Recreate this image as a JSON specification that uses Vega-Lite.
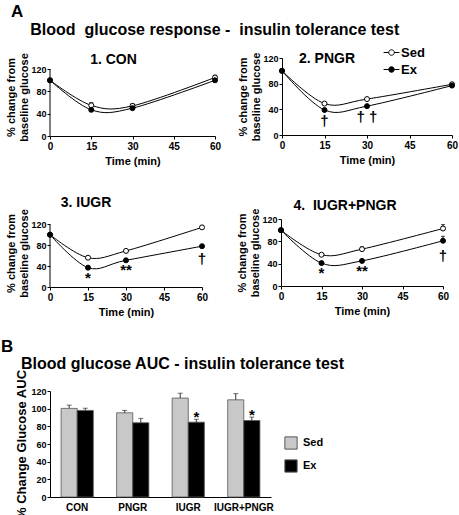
{
  "$schema": "https://vega.github.io/schema/vega-lite/v6.json",
  "background": "white",
  "padding": {"left": 0, "top": 3, "right": 0, "bottom": 0},
  "config": {
    "font": "Liberation Sans",
    "view": {"stroke": null},
    "axis": {"grid": false, "domainColor": "black", "tickColor": "black", "tickSize": 3, "labelFont": "Liberation Sans", "labelFontWeight": "bold", "labelColor": "black", "labelFontSize": 10, "labelPadding": 2, "labelOverlap": false, "labelFlush": false, "titleFont": "Liberation Sans", "titleFontWeight": "bold", "titleColor": "black", "titleFontSize": 11},
    "axisY": {"labelPadding": 1, "titlePadding": 1, "labelFontSize": 9},
    "title": {"font": "Liberation Sans", "fontWeight": "bold", "color": "black", "fontSize": 14},
    "legend": {"labelFont": "Liberation Sans", "labelFontWeight": "bold", "labelColor": "black"}
  },
  "datasets": {
    "lines": [
      {"panel": "CON", "group": "Sed", "time": 0, "value": 100},
      {"panel": "CON", "group": "Sed", "time": 15, "value": 55, "upper": 60},
      {"panel": "CON", "group": "Sed", "time": 30, "value": 54, "upper": 58},
      {"panel": "CON", "group": "Sed", "time": 60, "value": 105, "upper": 109},
      {"panel": "CON", "group": "Ex", "time": 0, "value": 100},
      {"panel": "CON", "group": "Ex", "time": 15, "value": 47},
      {"panel": "CON", "group": "Ex", "time": 30, "value": 50},
      {"panel": "CON", "group": "Ex", "time": 60, "value": 100},
      {"panel": "PNGR", "group": "Sed", "time": 0, "value": 100},
      {"panel": "PNGR", "group": "Sed", "time": 15, "value": 49},
      {"panel": "PNGR", "group": "Sed", "time": 30, "value": 56},
      {"panel": "PNGR", "group": "Sed", "time": 60, "value": 79, "upper": 82},
      {"panel": "PNGR", "group": "Ex", "time": 0, "value": 100},
      {"panel": "PNGR", "group": "Ex", "time": 15, "value": 39},
      {"panel": "PNGR", "group": "Ex", "time": 30, "value": 45},
      {"panel": "PNGR", "group": "Ex", "time": 60, "value": 77},
      {"panel": "IUGR", "group": "Sed", "time": 0, "value": 100},
      {"panel": "IUGR", "group": "Sed", "time": 15, "value": 56},
      {"panel": "IUGR", "group": "Sed", "time": 30, "value": 69},
      {"panel": "IUGR", "group": "Sed", "time": 60, "value": 114, "upper": 117},
      {"panel": "IUGR", "group": "Ex", "time": 0, "value": 100},
      {"panel": "IUGR", "group": "Ex", "time": 15, "value": 37},
      {"panel": "IUGR", "group": "Ex", "time": 30, "value": 51},
      {"panel": "IUGR", "group": "Ex", "time": 60, "value": 78},
      {"panel": "IUGR+PNGR", "group": "Sed", "time": 0, "value": 100},
      {"panel": "IUGR+PNGR", "group": "Sed", "time": 15, "value": 56},
      {"panel": "IUGR+PNGR", "group": "Sed", "time": 30, "value": 66, "upper": 70},
      {"panel": "IUGR+PNGR", "group": "Sed", "time": 60, "value": 103, "upper": 110},
      {"panel": "IUGR+PNGR", "group": "Ex", "time": 0, "value": 100},
      {"panel": "IUGR+PNGR", "group": "Ex", "time": 15, "value": 41},
      {"panel": "IUGR+PNGR", "group": "Ex", "time": 30, "value": 45},
      {"panel": "IUGR+PNGR", "group": "Ex", "time": 60, "value": 81, "upper": 89}
    ],
    "marks": [
      {"panel": "PNGR", "time": 15, "value": 39, "label": "†"},
      {"panel": "PNGR", "time": 30, "value": 45, "label": "† †"},
      {"panel": "IUGR", "time": 15, "value": 37, "label": "*"},
      {"panel": "IUGR", "time": 30, "value": 51, "label": "**"},
      {"panel": "IUGR", "time": 60, "value": 78, "label": "†"},
      {"panel": "IUGR+PNGR", "time": 15, "value": 41, "label": "*"},
      {"panel": "IUGR+PNGR", "time": 30, "value": 45, "label": "**"},
      {"panel": "IUGR+PNGR", "time": 60, "value": 81, "label": "†"}
    ],
    "auc": [
      {"cat": "CON", "group": "Sed", "value": 100.3, "upper": 104},
      {"cat": "CON", "group": "Ex", "value": 98, "upper": 100.5},
      {"cat": "PNGR", "group": "Sed", "value": 95.3, "upper": 98},
      {"cat": "PNGR", "group": "Ex", "value": 84, "upper": 89},
      {"cat": "IUGR", "group": "Sed", "value": 112, "upper": 117.5},
      {"cat": "IUGR", "group": "Ex", "value": 84.7, "upper": 88, "label": "*"},
      {"cat": "IUGR+PNGR", "group": "Sed", "value": 110, "upper": 117},
      {"cat": "IUGR+PNGR", "group": "Ex", "value": 86.6, "upper": 90.5, "label": "*"}
    ]
  },
  "resolve": {"scale": {"fill": "independent"}, "legend": {"fill": "independent"}},
  "align": "none",
  "spacing": 21,
  "vconcat": [
    {
      "title": {"text": "A", "anchor": "start", "frame": "bounds", "fontSize": 17, "offset": 1, "dx": 5},
      "resolve": {"scale": {"fill": "independent"}, "legend": {"fill": "independent"}},
      "align": "none",
      "spacing": 29,
      "vconcat": [
        {
          "title": {"text": "Blood \u00a0glucose response - \u00a0insulin tolerance test", "anchor": "middle", "frame": "bounds", "fontSize": 16, "offset": 6, "dx": -17},
          "resolve": {"scale": {"fill": "independent"}, "legend": {"fill": "independent"}},
          "spacing": 16,
          "hconcat": [
            {
              "width": 165, "height": 78,
              "title": {"text": "1. CON", "anchor": "middle", "frame": "group", "offset": -14, "dx": -19},
              "layer": [
                {"data": {"values": [{}]}, "mark": {"type": "rule", "color": "black"}, "encoding": {"x": {"datum": 0, "type": "quantitative"}, "y": {"datum": 0, "type": "quantitative"}, "y2": {"datum": 120}}},
                {"data": {"name": "lines"}, "transform": [{"filter": "datum.panel === 'CON'"}],
                 "mark": {"type": "line", "interpolate": "cardinal", "color": "black", "strokeWidth": 1},
                 "encoding": {
                   "x": {"field": "time", "type": "quantitative", "scale": {"domain": [0, 60]}, "axis": {"values": [0, 15, 30, 45, 60], "tickCount": 20, "title": "Time (min)"}},
                   "y": {"field": "value", "type": "quantitative", "scale": {"domain": [0, 137.6]}, "axis": {"values": [0, 40, 80, 120], "tickCount": 20, "domain": false, "title": ["% change from", "baseline glucose"]}},
                   "detail": {"field": "group"}}},
                {"data": {"name": "lines"}, "transform": [{"filter": "datum.panel === 'CON' && datum.upper != null"}],
                 "mark": {"type": "rule", "color": "black"},
                 "encoding": {"x": {"field": "time", "type": "quantitative"}, "y": {"field": "value", "type": "quantitative"}, "y2": {"field": "upper"}}},
                {"data": {"name": "lines"}, "transform": [{"filter": "datum.panel === 'CON' && datum.upper != null"}],
                 "mark": {"type": "tick", "orient": "horizontal", "size": 4, "thickness": 1, "color": "black"},
                 "encoding": {"x": {"field": "time", "type": "quantitative"}, "y": {"field": "upper", "type": "quantitative"}}},
                {"data": {"name": "lines"}, "transform": [{"filter": "datum.panel === 'CON'"}],
                 "mark": {"type": "point", "shape": "circle", "size": 25, "stroke": "black", "strokeWidth": 1, "opacity": 1},
                 "encoding": {"x": {"field": "time", "type": "quantitative"}, "y": {"field": "value", "type": "quantitative"},
                   "fill": {"field": "group", "type": "nominal", "scale": {"domain": ["Sed", "Ex"], "range": ["white", "black"]}, "legend": null}}}
              ]
            },
            {
              "width": 170, "height": 77,
              "title": {"text": "2. PNGR", "anchor": "middle", "frame": "group", "offset": -22, "dx": -40},
              "layer": [
                {"data": {"name": "lines"}, "transform": [{"filter": "datum.panel === 'PNGR'"}],
                 "mark": {"type": "line", "interpolate": "cardinal", "color": "black", "strokeWidth": 1},
                 "encoding": {
                   "x": {"field": "time", "type": "quantitative", "scale": {"domain": [0, 60]}, "axis": {"values": [0, 15, 30, 45, 60], "tickCount": 20, "title": "Time (min)"}},
                   "y": {"field": "value", "type": "quantitative", "scale": {"domain": [0, 120]}, "axis": {"values": [0, 40, 80, 120], "tickCount": 20, "title": ["% change from", "baseline glucose"]}},
                   "detail": {"field": "group"}}},
                {"data": {"name": "lines"}, "transform": [{"filter": "datum.panel === 'PNGR' && datum.upper != null"}],
                 "mark": {"type": "rule", "color": "black"},
                 "encoding": {"x": {"field": "time", "type": "quantitative"}, "y": {"field": "value", "type": "quantitative"}, "y2": {"field": "upper"}}},
                {"data": {"name": "lines"}, "transform": [{"filter": "datum.panel === 'PNGR' && datum.upper != null"}],
                 "mark": {"type": "tick", "orient": "horizontal", "size": 4, "thickness": 1, "color": "black"},
                 "encoding": {"x": {"field": "time", "type": "quantitative"}, "y": {"field": "upper", "type": "quantitative"}}},
                {"data": {"name": "lines"}, "transform": [{"filter": "datum.panel === 'PNGR'"}],
                 "mark": {"type": "point", "shape": "circle", "size": 25, "stroke": "black", "strokeWidth": 1, "opacity": 1},
                 "encoding": {"x": {"field": "time", "type": "quantitative"}, "y": {"field": "value", "type": "quantitative"},
                   "fill": {"field": "group", "type": "nominal", "scale": {"domain": ["Sed", "Ex"], "range": ["white", "black"]},
                     "legend": {"orient": "none", "legendX": 101, "legendY": -14, "title": null, "symbolType": "M-1,0L-0.35,0M0.35,0L1,0M-0.35,0A0.35,0.35,0,1,1,0.35,0A0.35,0.35,0,1,1,-0.35,0Z", "symbolSize": 250, "symbolStrokeColor": "black", "symbolStrokeWidth": 1, "labelFontSize": 13, "labelOffset": 1, "rowPadding": 1, "padding": 0}}}},
                {"data": {"name": "marks"}, "transform": [{"filter": "datum.panel === 'PNGR'"}],
                 "mark": {"type": "text", "baseline": "middle", "dy": 11, "fontSize": 15, "fontWeight": "bold", "color": "black"},
                 "encoding": {"x": {"field": "time", "type": "quantitative"}, "y": {"field": "value", "type": "quantitative"}, "text": {"field": "label"}}}
              ]
            }
          ]
        },
        {
          "resolve": {"scale": {"fill": "independent"}, "legend": {"fill": "independent"}},
          "spacing": 28,
          "hconcat": [
            {
              "width": 152, "height": 68,
              "title": {"text": "3. IUGR", "anchor": "middle", "frame": "group", "offset": -1, "dx": -40},
              "layer": [
                {"data": {"values": [{}]}, "mark": {"type": "rule", "color": "black"}, "encoding": {"x": {"datum": 0, "type": "quantitative"}, "y": {"datum": 0, "type": "quantitative"}, "y2": {"datum": 120}}},
                {"data": {"name": "lines"}, "transform": [{"filter": "datum.panel === 'IUGR'"}],
                 "mark": {"type": "line", "interpolate": "cardinal", "color": "black", "strokeWidth": 1},
                 "encoding": {
                   "x": {"field": "time", "type": "quantitative", "scale": {"domain": [0, 60]}, "axis": {"values": [0, 15, 30, 45, 60], "tickCount": 20, "title": "Time (min)"}},
                   "y": {"field": "value", "type": "quantitative", "scale": {"domain": [0, 127.5]}, "axis": {"values": [0, 40, 80, 120], "tickCount": 20, "domain": false, "title": ["% change from", "baseline glucose"]}},
                   "detail": {"field": "group"}}},
                {"data": {"name": "lines"}, "transform": [{"filter": "datum.panel === 'IUGR' && datum.upper != null"}],
                 "mark": {"type": "rule", "color": "black"},
                 "encoding": {"x": {"field": "time", "type": "quantitative"}, "y": {"field": "value", "type": "quantitative"}, "y2": {"field": "upper"}}},
                {"data": {"name": "lines"}, "transform": [{"filter": "datum.panel === 'IUGR' && datum.upper != null"}],
                 "mark": {"type": "tick", "orient": "horizontal", "size": 4, "thickness": 1, "color": "black"},
                 "encoding": {"x": {"field": "time", "type": "quantitative"}, "y": {"field": "upper", "type": "quantitative"}}},
                {"data": {"name": "lines"}, "transform": [{"filter": "datum.panel === 'IUGR'"}],
                 "mark": {"type": "point", "shape": "circle", "size": 25, "stroke": "black", "strokeWidth": 1, "opacity": 1},
                 "encoding": {"x": {"field": "time", "type": "quantitative"}, "y": {"field": "value", "type": "quantitative"},
                   "fill": {"field": "group", "type": "nominal", "scale": {"domain": ["Sed", "Ex"], "range": ["white", "black"]}, "legend": null}}},
                {"data": {"name": "marks"}, "transform": [{"filter": "datum.panel === 'IUGR' && datum.label !== '†'"}],
                 "mark": {"type": "text", "baseline": "top", "dy": 3, "fontSize": 15, "fontWeight": "bold", "color": "black"},
                 "encoding": {"x": {"field": "time", "type": "quantitative"}, "y": {"field": "value", "type": "quantitative"}, "text": {"field": "label"}}},
                {"data": {"name": "marks"}, "transform": [{"filter": "datum.panel === 'IUGR' && datum.label === '†'"}],
                 "mark": {"type": "text", "baseline": "middle", "dy": 13, "fontSize": 15, "fontWeight": "bold", "color": "black"},
                 "encoding": {"x": {"field": "time", "type": "quantitative"}, "y": {"field": "value", "type": "quantitative"}, "text": {"field": "label"}}}
              ]
            },
            {
              "width": 162, "height": 67,
              "title": {"text": "4. \u00a0IUGR+PNGR", "anchor": "middle", "frame": "group", "offset": -5, "dx": -17},
              "layer": [
                {"data": {"name": "lines"}, "transform": [{"filter": "datum.panel === 'IUGR+PNGR'"}],
                 "mark": {"type": "line", "interpolate": "cardinal", "color": "black", "strokeWidth": 1},
                 "encoding": {
                   "x": {"field": "time", "type": "quantitative", "scale": {"domain": [0, 60]}, "axis": {"values": [0, 15, 30, 45, 60], "tickCount": 20, "title": "Time (min)"}},
                   "y": {"field": "value", "type": "quantitative", "scale": {"domain": [0, 120]}, "axis": {"values": [0, 40, 80, 120], "tickCount": 20, "title": ["% change from", "baseline glucose"]}},
                   "detail": {"field": "group"}}},
                {"data": {"name": "lines"}, "transform": [{"filter": "datum.panel === 'IUGR+PNGR' && datum.upper != null"}],
                 "mark": {"type": "rule", "color": "black"},
                 "encoding": {"x": {"field": "time", "type": "quantitative"}, "y": {"field": "value", "type": "quantitative"}, "y2": {"field": "upper"}}},
                {"data": {"name": "lines"}, "transform": [{"filter": "datum.panel === 'IUGR+PNGR' && datum.upper != null"}],
                 "mark": {"type": "tick", "orient": "horizontal", "size": 4, "thickness": 1, "color": "black"},
                 "encoding": {"x": {"field": "time", "type": "quantitative"}, "y": {"field": "upper", "type": "quantitative"}}},
                {"data": {"name": "lines"}, "transform": [{"filter": "datum.panel === 'IUGR+PNGR'"}],
                 "mark": {"type": "point", "shape": "circle", "size": 25, "stroke": "black", "strokeWidth": 1, "opacity": 1},
                 "encoding": {"x": {"field": "time", "type": "quantitative"}, "y": {"field": "value", "type": "quantitative"},
                   "fill": {"field": "group", "type": "nominal", "scale": {"domain": ["Sed", "Ex"], "range": ["white", "black"]}, "legend": null}}},
                {"data": {"name": "marks"}, "transform": [{"filter": "datum.panel === 'IUGR+PNGR' && datum.label !== '†'"}],
                 "mark": {"type": "text", "baseline": "top", "dy": 3, "fontSize": 15, "fontWeight": "bold", "color": "black"},
                 "encoding": {"x": {"field": "time", "type": "quantitative"}, "y": {"field": "value", "type": "quantitative"}, "text": {"field": "label"}}},
                {"data": {"name": "marks"}, "transform": [{"filter": "datum.panel === 'IUGR+PNGR' && datum.label === '†'"}],
                 "mark": {"type": "text", "baseline": "middle", "dy": 15, "fontSize": 15, "fontWeight": "bold", "color": "black"},
                 "encoding": {"x": {"field": "time", "type": "quantitative"}, "y": {"field": "value", "type": "quantitative"}, "text": {"field": "label"}}}
              ]
            }
          ]
        }
      ]
    },
    {
      "title": {"text": "B", "anchor": "start", "frame": "bounds", "fontSize": 17, "offset": 0, "dx": -15},
      "resolve": {"scale": {"fill": "independent"}, "legend": {"fill": "independent"}},
      "vconcat": [
        {
          "width": 221, "height": 106,
          "title": {"text": "Blood glucose AUC - insulin tolerance test", "anchor": "middle", "frame": "group", "fontSize": 16, "offset": -3, "dx": 22},
          "data": {"name": "auc"},
          "encoding": {
            "x": {"field": "cat", "type": "nominal", "sort": null, "scale": {"paddingInner": 0.42, "paddingOuter": 0.2}, "axis": {"title": null, "labelAngle": 0, "ticks": false, "labelPadding": 5}},
            "xOffset": {"field": "group", "type": "nominal", "sort": ["Sed", "Ex"], "scale": {"domain": ["Sed", "Ex"]}}
          },
          "layer": [
            {"mark": {"type": "bar", "stroke": "#555555", "strokeWidth": 0.8},
             "encoding": {
               "y": {"field": "value", "type": "quantitative", "scale": {"domain": [0, 120]}, "axis": {"values": [0, 20, 40, 60, 80, 100, 120], "tickCount": 20, "title": "% Change Glucose AUC", "titleFontSize": 13, "titlePadding": 2}},
               "fill": {"field": "group", "type": "nominal", "scale": {"domain": ["Sed", "Ex"], "range": ["#c8c8c8", "#000000"]},
                 "legend": {"orient": "none", "legendX": 234, "legendY": 45, "title": null, "symbolType": "square", "symbolSize": 150, "symbolStrokeColor": "#555555", "symbolStrokeWidth": 1, "labelFontSize": 11, "labelOffset": 5, "rowPadding": 5, "padding": 0}}}},
            {"mark": {"type": "rule", "color": "#333333"},
             "encoding": {"y": {"field": "value", "type": "quantitative"}, "y2": {"field": "upper"}}},
            {"mark": {"type": "tick", "orient": "horizontal", "size": 5, "thickness": 1, "color": "#333333"},
             "encoding": {"y": {"field": "upper", "type": "quantitative"}}},
            {"transform": [{"filter": "datum.label != null"}],
             "mark": {"type": "text", "baseline": "middle", "dy": -2, "fontSize": 15, "fontWeight": "bold", "color": "black"},
             "encoding": {"y": {"field": "upper", "type": "quantitative"}, "text": {"field": "label"}}}
          ]
        }
      ]
    }
  ]
}
